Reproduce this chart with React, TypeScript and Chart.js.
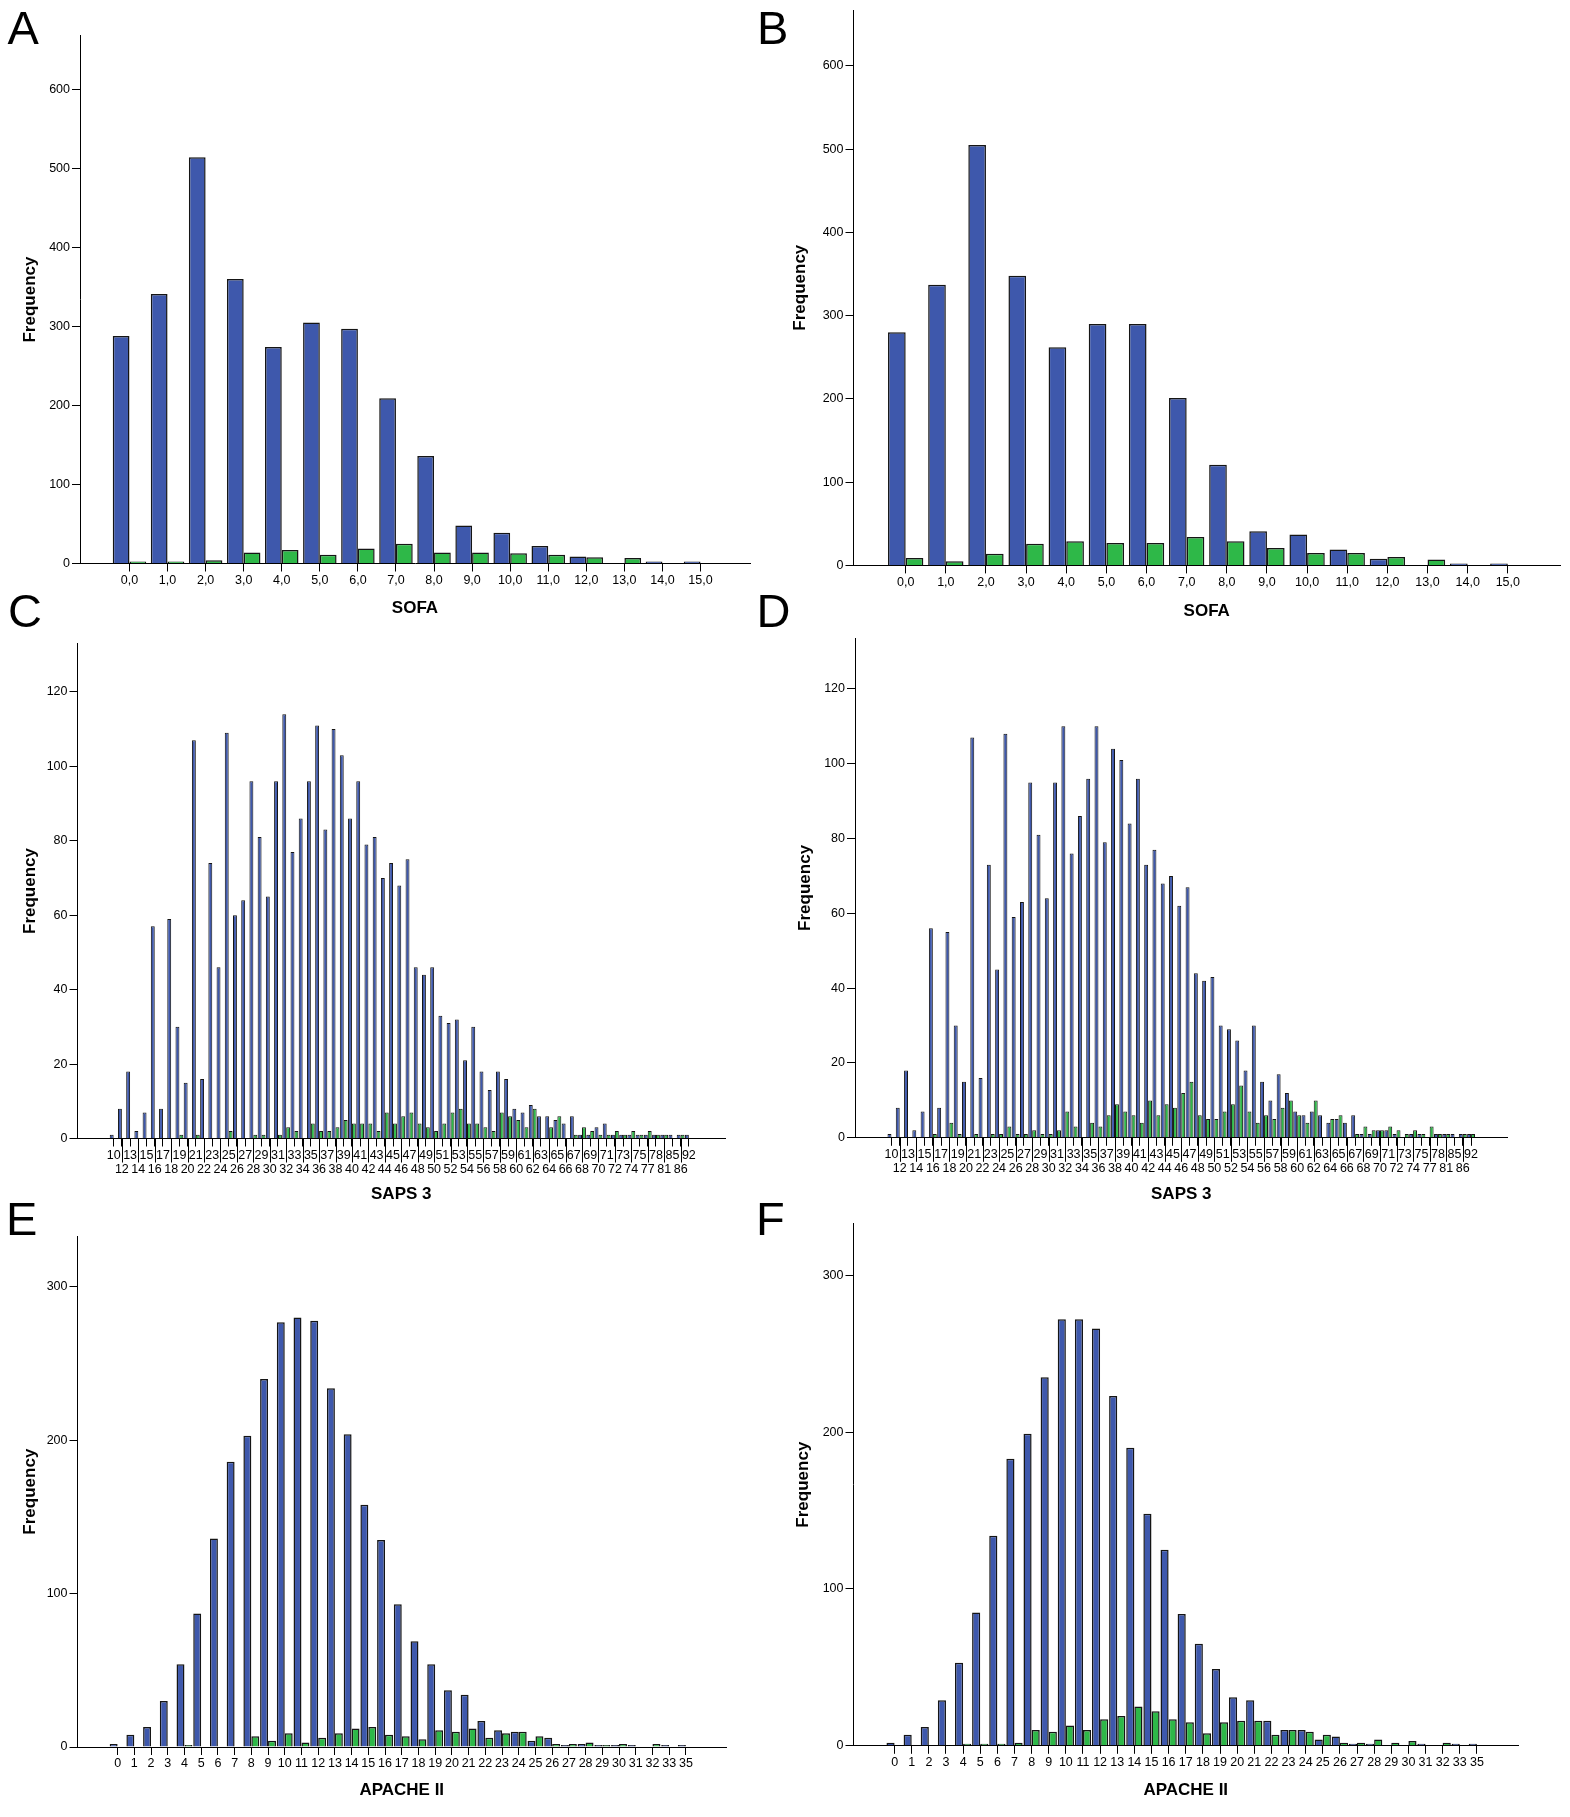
import React, { useEffect, useRef } from 'react';
import Chart from 'chart.js/auto';

const BLUE = '#3E58AC';
const GREEN = '#2EB848';
const EDGE = '#151515';
const FONT = "'Liberation Sans', Arial, Helvetica, sans-serif";

// ---- SOFA (panels A, B) ----
const sofaLabels = ['0,0', '1,0', '2,0', '3,0', '4,0', '5,0', '6,0', '7,0', '8,0', '9,0', '10,0', '11,0', '12,0', '13,0', '14,0', '15,0'];
const sofaBlueA = [288, 341, 514, 360, 274, 305, 297, 209, 136, 48, 39, 22, 9, 0, 1, 1];
const sofaGreenA = [1, 1, 4, 14, 17, 11, 19, 25, 14, 14, 13, 11, 8, 7, 0, 0];
const sofaBlueB = [280, 337, 505, 348, 262, 290, 290, 201, 121, 41, 37, 19, 8, 0, 1, 1];
const sofaGreenB = [9, 5, 14, 26, 29, 27, 27, 34, 29, 21, 15, 15, 10, 7, 0, 0];
const sofaYTicks = [0, 100, 200, 300, 400, 500, 600];

// ---- SAPS 3 (panels C, D) ----
const sapsLabels = ['10', '12', '13', '14', '15', '16', '17', '18', '19', '20', '21', '22', '23', '24', '25', '26', '27', '28', '29', '30',
  '31', '32', '33', '34', '35', '36', '37', '38', '39', '40', '41', '42', '43', '44', '45', '46', '47', '48', '49', '50',
  '51', '52', '53', '54', '55', '56', '57', '58', '59', '60', '61', '62', '63', '64', '65', '66', '67', '68', '69', '70',
  '71', '72', '73', '74', '75', '77', '78', '81', '85', '86', '92'];
const sapsBlueC = [1, 8, 18, 2, 7, 57, 8, 59, 30, 15, 107, 16, 74, 46, 109, 60, 64, 96, 81, 65,
  96, 114, 77, 86, 96, 111, 83, 110, 103, 86, 96, 79, 81, 70, 74, 68, 75, 46, 44, 46,
  33, 31, 32, 21, 30, 18, 13, 18, 16, 8, 7, 9, 6, 6, 5, 4, 6, 1, 1, 3,
  4, 1, 1, 1, 1, 1, 1, 1, 1, 1, 1];
const sapsGreenC = [0, 0, 0, 0, 0, 0, 0, 0, 1, 0, 1, 0, 0, 0, 2, 0, 0, 1, 1, 0,
  1, 3, 2, 0, 4, 2, 2, 3, 5, 4, 4, 4, 2, 7, 4, 6, 7, 4, 3, 2,
  4, 7, 8, 4, 4, 3, 2, 7, 6, 5, 3, 8, 0, 3, 6, 0, 1, 3, 2, 1,
  1, 2, 1, 2, 1, 2, 1, 1, 0, 1, 0];
const sapsBlueD = [1, 8, 18, 2, 7, 56, 8, 55, 30, 15, 107, 16, 73, 45, 108, 59, 63, 95, 81, 64,
  95, 110, 76, 86, 96, 110, 79, 104, 101, 84, 96, 73, 77, 68, 70, 62, 67, 44, 42, 43,
  30, 29, 26, 18, 30, 15, 10, 17, 12, 7, 6, 7, 6, 4, 5, 4, 6, 1, 1, 2,
  2, 1, 0, 1, 1, 0, 1, 1, 1, 1, 1];
const sapsGreenD = [0, 0, 0, 0, 0, 1, 0, 4, 1, 0, 1, 0, 1, 1, 3, 1, 1, 2, 1, 1,
  2, 7, 3, 0, 4, 3, 6, 9, 7, 6, 4, 10, 6, 9, 8, 12, 15, 6, 5, 5,
  7, 9, 14, 7, 4, 6, 5, 8, 10, 6, 4, 10, 0, 5, 6, 0, 1, 3, 2, 2,
  3, 2, 1, 2, 1, 3, 1, 1, 0, 1, 1];
const sapsYTicks = [0, 20, 40, 60, 80, 100, 120];

// ---- APACHE II (panels E, F) ----
const apacheLabels = ['0', '1', '2', '3', '4', '5', '6', '7', '8', '9', '10', '11', '12', '13', '14', '15', '16', '17',
  '18', '19', '20', '21', '22', '23', '24', '25', '26', '27', '28', '29', '30', '31', '32', '33', '35'];
const apacheBlueE = [2, 8, 13, 30, 54, 87, 136, 186, 203, 240, 277, 280, 278, 234, 204, 158, 135, 93,
  69, 54, 37, 34, 17, 11, 10, 4, 6, 1, 2, 1, 1, 1, 0, 1, 1];
const apacheGreenE = [0, 0, 0, 0, 1, 0, 0, 0, 7, 4, 9, 3, 6, 9, 12, 13, 8, 7,
  5, 11, 10, 12, 6, 9, 10, 7, 2, 2, 3, 1, 2, 0, 2, 0, 0];
const apacheBlueF = [2, 7, 12, 29, 53, 85, 134, 183, 199, 235, 272, 272, 266, 223, 190, 148, 125, 84,
  65, 49, 31, 29, 16, 10, 10, 4, 6, 1, 1, 0, 0, 1, 0, 1, 1];
const apacheGreenF = [0, 0, 0, 0, 1, 1, 1, 2, 10, 9, 13, 10, 17, 19, 25, 22, 17, 15,
  8, 15, 16, 16, 7, 10, 9, 7, 2, 2, 4, 2, 3, 0, 2, 0, 0];
const apacheYTicks = [0, 100, 200, 300];

type Box = { x: number; y: number; w: number; h: number };
type Area = { l: number; t: number; r: number; b: number };

type PanelProps = {
  box: Box;
  area: Area;
  yTitleX: number;
  labels: string[];
  blue: number[];
  green: number[];
  xPad: number;
  yMax: number;
  yTicks: number[];
  xTitle: string;
  twoRows?: boolean;
  barEdge: number;
  catPct: number;
};

// tick marks under the second label row are drawn longer
const longTicks = {
  id: 'longTicks',
  afterDraw(chart: any) {
    const s = chart.scales.x;
    const ctx = chart.ctx;
    const b = chart.chartArea.bottom;
    ctx.save();
    ctx.strokeStyle = '#000';
    ctx.lineWidth = 1;
    s.ticks.forEach((_t: any, i: number) => {
      if (i % 2 === 1) {
        const px = Math.round(s.getPixelForTick(i)) + 0.5;
        ctx.beginPath();
        ctx.moveTo(px, b);
        ctx.lineTo(px, b + 24);
        ctx.stroke();
      }
    });
    ctx.restore();
  },
};

const toPoints = (arr: number[]) => arr.map((v, i) => ({ x: i, y: v === 0 ? null : v }));

const Panel: React.FC<PanelProps> = (p) => {
  const ref = useRef<HTMLCanvasElement>(null);
  const chartRef = useRef<Chart | null>(null);

  useEffect(() => {
    if (!ref.current) return;
    if (chartRef.current) chartRef.current.destroy();

    const titleHalf = 17 * 1.2 / 2;
    const padL = p.yTitleX - titleHalf - p.box.x;
    const padT = p.area.t - p.box.y;
    const padR = p.box.x + p.box.w - p.area.r;
    const yW = p.area.l - p.box.x - padL;
    const xH = p.box.y + p.box.h - p.area.b;
    const tickFont = { family: FONT, size: 12.5, lineHeight: 1.12 };
    const titleFont = { family: FONT, size: 17, weight: 'bold' as const, lineHeight: 1.2 };

    const ds = (data: number[], color: string) => ({
      data: toPoints(data) as any,
      backgroundColor: color,
      borderColor: EDGE,
      borderWidth: p.barEdge,
      borderSkipped: 'start' as const,
      categoryPercentage: p.catPct,
      barPercentage: 1,
      minBarLength: 2,
    });

    chartRef.current = new Chart(ref.current, {
      type: 'bar',
      data: { datasets: [ds(p.blue, BLUE), ds(p.green, GREEN)] },
      options: {
        animation: false,
        responsive: true,
        maintainAspectRatio: false,
        events: [],
        layout: { padding: { left: padL, top: padT, right: padR, bottom: 0 } },
        plugins: { legend: { display: false }, tooltip: { enabled: false } },
        scales: {
          x: {
            type: 'linear',
            min: -p.xPad,
            max: p.labels.length - 1 + p.xPad,
            offset: false,
            afterBuildTicks: (s: any) => {
              s.ticks = p.labels.map((_l, i) => ({ value: i }));
            },
            afterFit: (s: any) => {
              s.height = xH;
            },
            ticks: {
              autoSkip: false,
              maxRotation: 0,
              minRotation: 0,
              padding: 2,
              color: '#000',
              font: tickFont,
              callback: (_v: any, i: number) => {
                const lab = p.labels[i];
                if (p.twoRows && i % 2 === 1) return ['', lab];
                return lab;
              },
            },
            grid: { offset: false, drawOnChartArea: false, drawTicks: true, tickLength: 8, tickColor: '#000', tickWidth: 1 },
            border: { display: true, color: '#000', width: 1 },
            title: { display: true, text: p.xTitle, color: '#000', font: titleFont, padding: { top: 0, bottom: 4 } },
          },
          y: {
            type: 'linear',
            min: 0,
            max: p.yMax,
            afterBuildTicks: (s: any) => {
              s.ticks = p.yTicks.map((v) => ({ value: v }));
            },
            afterFit: (s: any) => {
              s.width = yW;
            },
            ticks: { padding: 2, color: '#000', font: tickFont, callback: (v: any) => String(v) },
            grid: { drawOnChartArea: false, drawTicks: true, tickLength: 8, tickColor: '#000', tickWidth: 1 },
            border: { display: true, color: '#000', width: 1 },
            title: { display: true, text: 'Frequency', color: '#000', font: titleFont, padding: { top: 0, bottom: 0 } },
          },
        },
      },
      plugins: p.twoRows ? [longTicks] : [],
    });

    return () => {
      if (chartRef.current) {
        chartRef.current.destroy();
        chartRef.current = null;
      }
    };
  }, []);

  return (
    <div style={{ position: 'absolute', left: p.box.x, top: p.box.y, width: p.box.w, height: p.box.h }}>
      <canvas ref={ref}></canvas>
    </div>
  );
};

const Letter: React.FC<{ ch: string; x: number; y: number }> = ({ ch, x, y }) => (
  <div style={{ position: 'absolute', left: x, top: y, fontFamily: FONT, fontSize: 47, lineHeight: 1, color: '#000', zIndex: 2 }}>
    {ch}
  </div>
);

const App: React.FC = () => {
  return (
    <div style={{ position: 'absolute', left: 0, top: 0, width: 1570, height: 1817, background: '#fff', overflow: 'hidden' }}>
      <Panel box={{ x: 0, y: 0, w: 785, h: 623 }} area={{ l: 80, t: 35.6, r: 750, b: 563.5 }} yTitleX={30}
        labels={sofaLabels} blue={sofaBlueA} green={sofaGreenA} xPad={1.3} yMax={668} yTicks={sofaYTicks}
        xTitle="SOFA" barEdge={1.5} catPct={0.88} />
      <Panel box={{ x: 785, y: 0, w: 785, h: 626 }} area={{ l: 853.5, t: 10, r: 1560, b: 565.4 }} yTitleX={800}
        labels={sofaLabels} blue={sofaBlueB} green={sofaGreenB} xPad={1.3} yMax={667} yTicks={sofaYTicks}
        xTitle="SOFA" barEdge={1.5} catPct={0.88} />
      <Panel box={{ x: 0, y: 600, w: 785, h: 609 }} area={{ l: 77.5, t: 643.5, r: 725, b: 1138.5 }} yTitleX={30}
        labels={sapsLabels} blue={sapsBlueC} green={sapsGreenC} xPad={4.4} yMax={133} yTicks={sapsYTicks}
        xTitle="SAPS 3" twoRows barEdge={1} catPct={0.95} />
      <Panel box={{ x: 785, y: 600, w: 785, h: 609 }} area={{ l: 855, t: 638, r: 1507.5, b: 1137.8 }} yTitleX={805}
        labels={sapsLabels} blue={sapsBlueD} green={sapsGreenD} xPad={4.4} yMax={133.6} yTicks={sapsYTicks}
        xTitle="SAPS 3" twoRows barEdge={1} catPct={0.95} />
      <Panel box={{ x: 0, y: 1200, w: 785, h: 605 }} area={{ l: 77.5, t: 1236.3, r: 726, b: 1747 }} yTitleX={30}
        labels={apacheLabels} blue={apacheBlueE} green={apacheGreenE} xPad={2.4} yMax={333} yTicks={apacheYTicks}
        xTitle="APACHE II" barEdge={1.5} catPct={0.95} />
      <Panel box={{ x: 785, y: 1200, w: 785, h: 605 }} area={{ l: 853.5, t: 1223.5, r: 1518, b: 1745.8 }} yTitleX={803.5}
        labels={apacheLabels} blue={apacheBlueF} green={apacheGreenF} xPad={2.4} yMax={333} yTicks={apacheYTicks}
        xTitle="APACHE II" barEdge={1.5} catPct={0.95} />
      <Letter ch="A" x={7.5} y={4} />
      <Letter ch="B" x={757} y={4} />
      <Letter ch="C" x={8} y={587} />
      <Letter ch="D" x={756.5} y={587} />
      <Letter ch="E" x={6} y={1195} />
      <Letter ch="F" x={756} y={1195} />
    </div>
  );
};

export default App;
